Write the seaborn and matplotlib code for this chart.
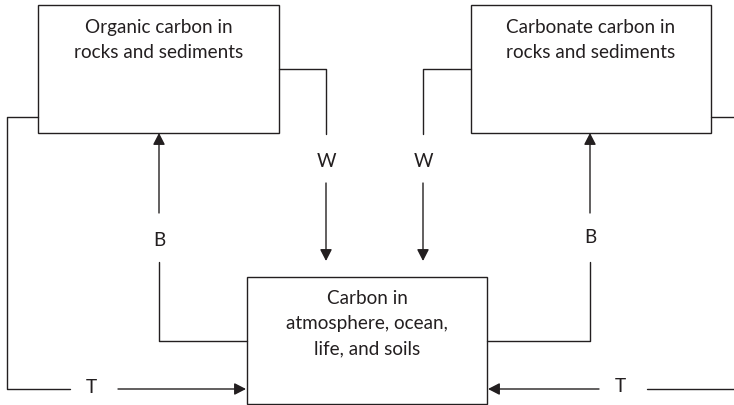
import matplotlib
matplotlib.use("Agg")
import matplotlib.pyplot as plt
import seaborn as sns
import pandas as pd
from matplotlib.patches import Rectangle, FancyArrowPatch

# ---- content ----
box_labels = ["Organic carbon in\nrocks and sediments",
              "Carbonate carbon in\nrocks and sediments",
              "Carbon in\natmosphere, ocean,\nlife, and soils"]
flow_labels = ["W", "W", "B", "B", "T", "T"]

sns.set_theme(style="white")
plt.rcParams['font.family'] = ['Lato', 'DejaVu Sans']

W, H = 734, 405
fig = plt.figure(figsize=(W / 100, H / 100), dpi=100)
ax = fig.add_axes([0, 0, 1, 1])

INK = "#231f20"
LW = 1.0
FS = 13.6

# connector paths (no arrowheads)
paths = [
    [(279, 69), (326, 69), (326, 134)],
    [(471, 69), (423, 69), (423, 134)],
    [(247, 341), (159, 341), (159, 262)],
    [(487, 341), (590, 341), (590, 262)],
    [(38, 117), (7, 117), (7, 389), (70, 389)],
    [(711, 117), (745, 117), (745, 389), (647, 389)],
]
rows = []
for i, p in enumerate(paths):
    for j, (x, y) in enumerate(p):
        rows.append({"x": x, "y": y, "path": i, "order": j})
df = pd.DataFrame(rows)
sns.lineplot(data=df, x="x", y="y", units="path", estimator=None, sort=False,
             color=INK, lw=LW, ax=ax, legend=False)
ax.set_xlim(0, W)
ax.set_ylim(H, 0)
ax.axis("off")

# boxes (x0, y0, x1, y1) in pixel layout
boxes = [(38, 5, 279, 133), (471, 5, 711, 133), (247, 277, 487, 404)]
first_baseline = [33, 33, 304]
line_step = 25
for (x0, y0, x1, y1), lab, by in zip(boxes, box_labels, first_baseline):
    ax.add_patch(Rectangle((x0, y0), x1 - x0, y1 - y0, fill=False,
                           edgecolor=INK, lw=LW, zorder=2))
    for k, line in enumerate(lab.split("\n")):
        ax.text((x0 + x1) / 2, by + k * line_step, line, ha="center",
                va="baseline", fontsize=FS, color=INK)

# arrows (start, end)
arrows = [
    ((326, 183), (326, 261)),
    ((423, 183), (423, 261)),
    ((159, 213), (159, 133)),
    ((590, 213), (590, 133)),
    ((118, 389), (246, 389)),
    ((599, 389), (488, 389)),
]
for s, e in arrows:
    ax.add_patch(FancyArrowPatch(s, e, arrowstyle="-|>,head_length=0.7,head_width=0.36",
                                 mutation_scale=10, color=INK, lw=LW,
                                 shrinkA=0, shrinkB=0, zorder=3))

# flow labels (baseline positions)
label_pos = [(326, 167), (423, 167), (159, 246), (590, 243), (91, 393), (620, 392)]
for lab, (x, y) in zip(flow_labels, label_pos):
    ax.text(x, y, lab, ha="center", va="baseline", fontsize=FS, color=INK)

fig.savefig("out.png", dpi=100)
